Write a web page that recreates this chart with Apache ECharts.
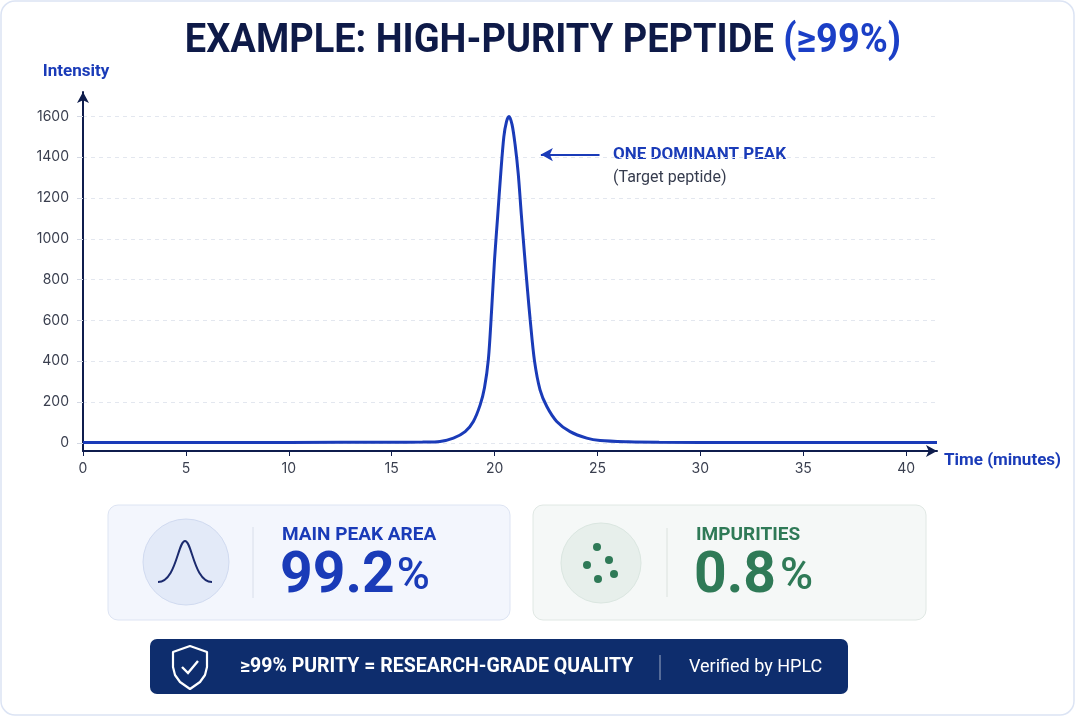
<!DOCTYPE html>
<html>
<head>
<meta charset="utf-8">
<script src="https://cdn.jsdelivr.net/npm/echarts@6/dist/echarts.min.js"></script>
<style>
  html, body { margin: 0; padding: 0; background: #ffffff; }
  #main { width: 1075px; height: 716px; }
</style>
</head>
<body>
<div id="main"></div>
<script>
// chromatogram (time in minutes, intensity)
const times = [0, 5, 10, 15, 16.5, 17.35, 18.0, 18.57, 18.97, 19.3, 19.51, 19.7, 19.85, 20.0, 20.15, 20.3, 20.45, 20.58, 20.7,
  20.85, 21.0, 21.15, 21.3, 21.45, 21.6, 21.73, 21.94, 22.21, 22.54, 23.02, 23.67, 24.48, 25.13, 26.5, 28, 32, 36, 41.5]
const intensity = [2, 2, 2, 3, 4, 7, 23, 55, 105, 186, 270, 410, 640, 900, 1110, 1320, 1500, 1575, 1600,
  1560, 1460, 1320, 1120, 930, 750, 604, 402, 260, 178, 105, 55, 23, 11, 5, 3, 2, 2, 2]
const xTicks = [0, 5, 10, 15, 20, 25, 30, 35, 40]
const yTicks = [0, 200, 400, 600, 800, 1000, 1200, 1400, 1600]
const mainPeakArea = 99.2
const impurities = 0.8

const blue = '#1a3bb8'
const navy = '#0f1d4d'
const green = '#2f7a57'

const main = document.getElementById('main')
const myChart = echarts.init(main)

const points = times.map((t, i) => [t, intensity[i]])

myChart.setOption({
  animation: false,
  backgroundColor: '#ffffff',
  grid: { left: 83, right: 138, top: 92, bottom: 265, containLabel: false, outerBoundsMode: 'none' },
  xAxis: {
    type: 'value',
    min: 0,
    max: 41.5,
    name: 'Time (minutes)',
    nameLocation: 'end',
    nameGap: 7,
    nameTextStyle: { color: blue, fontFamily: 'Roboto', fontWeight: 'bold', fontSize: 17, verticalAlign: 'top', padding: [1, 0, 0, 0] },
    axisLine: { onZero: false, symbol: ['none', 'arrow'], symbolSize: [9, 11], lineStyle: { color: navy, width: 2 } },
    axisTick: { show: true, customValues: xTicks, length: 5, lineStyle: { color: navy, width: 1 } },
    axisLabel: { customValues: xTicks, color: '#3a3f4f', fontFamily: 'Inter', fontSize: 14, margin: 11 },
    splitLine: { show: false }
  },
  yAxis: {
    type: 'value',
    min: -40,
    max: 1720,
    name: 'Intensity',
    nameLocation: 'end',
    nameGap: 12,
    nameTextStyle: { color: blue, fontFamily: 'Roboto', fontWeight: 'bold', fontSize: 17, align: 'center', padding: [0, 14, 0, 0] },
    axisLine: { show: true, symbol: ['none', 'arrow'], symbolSize: [9, 11], lineStyle: { color: navy, width: 2 } },
    axisTick: { show: true, customValues: yTicks, length: 6, lineStyle: { color: '#d3d8e3' } },
    axisLabel: { customValues: yTicks, formatter: v => String(v), color: '#3a3f4f', fontFamily: 'Inter', fontSize: 14, margin: 14 },
    splitLine: { show: true, lineStyle: { color: '#e3e7ef', type: [4, 4] } }
  },
  series: [{
    type: 'line',
    data: points,
    smooth: 0.3,
    showSymbol: false,
    lineStyle: { color: blue, width: 3 },
    z: 3,
    markLine: {
      silent: true,
      symbol: ['arrow', 'none'],
      symbolSize: [10, 12],
      label: { show: false },
      lineStyle: { color: blue, width: 2, type: 'solid' },
      data: [[{ coord: [22.25, 1413] }, { coord: [25.1, 1413] }]]
    }
  }],
  graphic: [
    // outer frame
    { type: 'rect', z: -10, shape: { x: 1, y: 1, width: 1073, height: 714, r: 14 },
      style: { fill: '#ffffff', stroke: '#dce4f4', lineWidth: 1.5 } },
    // title
    { type: 'text', x: 543, y: 42, scaleX: 0.95,
      style: {
        text: '{a|EXAMPLE: HIGH-PURITY PEPTIDE}{b| (≥99%)}',
        align: 'center', verticalAlign: 'middle',
        rich: {
          a: { fontFamily: 'Roboto', fontWeight: 'bold', fontSize: 40, fill: '#0e1a48' },
          b: { fontFamily: 'Roboto', fontWeight: 'bold', fontSize: 40, fill: '#1b3fc6' }
        }
      } },
    // annotation
    { type: 'text', x: 613, y: 155,
      style: { text: 'ONE DOMINANT PEAK', fill: blue, fontFamily: 'Roboto', fontWeight: 'bold', fontSize: 17, verticalAlign: 'middle' } },
    { type: 'text', x: 613, y: 178,
      style: { text: '(Target peptide)', fill: '#363c4e', fontFamily: 'Roboto', fontSize: 16, verticalAlign: 'middle' } },

    // card 1
    { type: 'rect', shape: { x: 108, y: 505, width: 402, height: 115, r: 10 },
      style: { fill: '#f3f6fd', stroke: '#dde4f3', lineWidth: 1 } },
    { type: 'circle', shape: { cx: 186, cy: 562, r: 43 },
      style: { fill: '#e3eaf8', stroke: '#d0daf0', lineWidth: 1 } },
    { type: 'bezierCurve', shape: { x1: 158, y1: 582, cpx1: 176, cpy1: 582, cpx2: 178, cpy2: 541, x2: 185, y2: 541 },
      style: { fill: 'none', stroke: '#1b2a6e', lineWidth: 2 } },
    { type: 'bezierCurve', shape: { x1: 185, y1: 541, cpx1: 192, cpy1: 541, cpx2: 194, cpy2: 582, x2: 212, y2: 582 },
      style: { fill: 'none', stroke: '#1b2a6e', lineWidth: 2 } },
    { type: 'line', shape: { x1: 253, y1: 527, x2: 253, y2: 598 }, style: { stroke: '#d8deea', lineWidth: 1 } },
    { type: 'text', x: 282, y: 535,
      style: { text: 'MAIN PEAK AREA', fill: blue, fontFamily: 'Roboto', fontWeight: 'bold', fontSize: 19, verticalAlign: 'middle' } },
    { type: 'text', x: 280, y: 578,
      style: {
        text: '{n|' + mainPeakArea.toFixed(1) + '}{p|%}', verticalAlign: 'middle',
        rich: {
          n: { fontFamily: 'Roboto', fontWeight: 'bold', fontSize: 57, fill: blue },
          p: { fontFamily: 'Roboto', fontWeight: 500, fontSize: 45, fill: blue, padding: [0, 0, 0, 2] }
        }
      } },

    // card 2
    { type: 'rect', shape: { x: 533, y: 505, width: 393, height: 115, r: 10 },
      style: { fill: '#f5f8f7', stroke: '#e0e8e4', lineWidth: 1 } },
    { type: 'circle', shape: { cx: 601, cy: 563, r: 40 },
      style: { fill: '#e7efeb', stroke: '#dae6e0', lineWidth: 1 } },
    { type: 'circle', shape: { cx: 597, cy: 547, r: 4 }, style: { fill: green } },
    { type: 'circle', shape: { cx: 609, cy: 560, r: 4 }, style: { fill: green } },
    { type: 'circle', shape: { cx: 587, cy: 565, r: 4 }, style: { fill: green } },
    { type: 'circle', shape: { cx: 614, cy: 574, r: 4 }, style: { fill: green } },
    { type: 'circle', shape: { cx: 598, cy: 579, r: 4 }, style: { fill: green } },
    { type: 'line', shape: { x1: 667, y1: 528, x2: 667, y2: 597 }, style: { stroke: '#dbe2de', lineWidth: 1 } },
    { type: 'text', x: 696, y: 535,
      style: { text: 'IMPURITIES', fill: green, fontFamily: 'Roboto', fontWeight: 'bold', fontSize: 19, verticalAlign: 'middle' } },
    { type: 'text', x: 694, y: 578,
      style: {
        text: '{n|' + impurities.toFixed(1) + '}{p|%}', verticalAlign: 'middle',
        rich: {
          n: { fontFamily: 'Roboto', fontWeight: 'bold', fontSize: 57, fill: green },
          p: { fontFamily: 'Roboto', fontWeight: 500, fontSize: 45, fill: green, padding: [0, 0, 0, 4] }
        }
      } },

    // bottom banner
    { type: 'rect', shape: { x: 150, y: 639, width: 698, height: 55, r: 7 },
      style: { fill: '#0e2d6d' } },
    { type: 'polygon', shape: { points: [[190, 646], [207, 652], [207, 667], [205, 675], [200, 682], [190, 689], [180, 682], [175, 675], [173, 667], [173, 652]] },
      style: { fill: 'none', stroke: '#ffffff', lineWidth: 2.2, lineJoin: 'round' } },
    { type: 'polyline', shape: { points: [[182, 667], [188, 673], [198, 661]] },
      style: { fill: 'none', stroke: '#ffffff', lineWidth: 2.4 } },
    { type: 'text', x: 240, y: 667,
      style: { text: '≥99% PURITY = RESEARCH-GRADE QUALITY', fill: '#ffffff', fontFamily: 'Roboto', fontWeight: 'bold', fontSize: 19.5, verticalAlign: 'middle' } },
    { type: 'line', shape: { x1: 660, y1: 655, x2: 660, y2: 680 }, style: { stroke: 'rgba(255,255,255,0.6)', lineWidth: 1 } },
    { type: 'text', x: 689, y: 667,
      style: { text: 'Verified by HPLC', fill: '#ffffff', fontFamily: 'Roboto', fontSize: 18, verticalAlign: 'middle' } }
  ]
})
</script>
</body>
</html>
